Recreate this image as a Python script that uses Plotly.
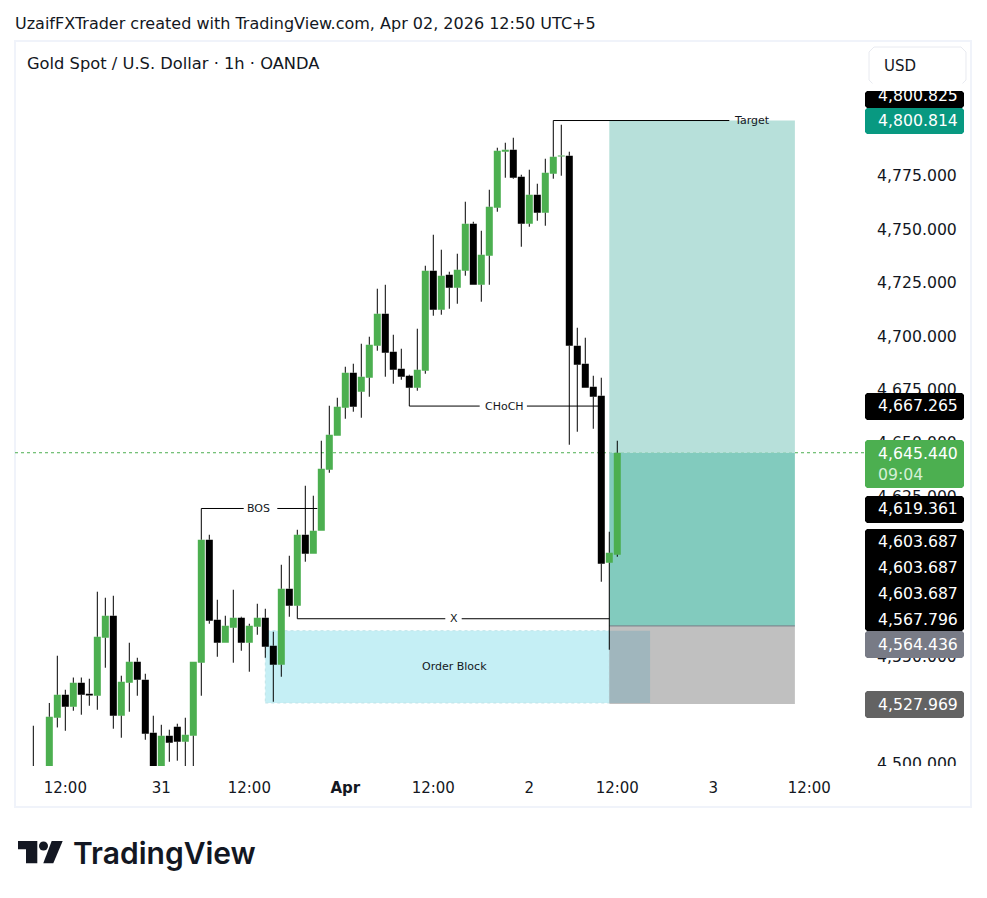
import plotly.graph_objects as go

# 1h gold candles (bar index = position in this list)
opens = [4490, 4492, 4492, 4490, 4521.49, 4532.25, 4526.63, 4537.86, 4532.72, 4531.78,
         4558.91, 4569.2, 4522.43, 4537.86, 4547.68, 4539.27, 4514.5, 4490, 4513.07, 4517.28,
         4510.3, 4513.07, 4547.22, 4604.75, 4567.33, 4556.57, 4563.59, 4568.26, 4556.57, 4564.05,
         4568.26, 4555.17, 4546.28, 4581.83, 4573.88, 4607.08, 4598.2, 4608.96, 4637.49, 4653.39,
         4666.49, 4682.86, 4673.97, 4680.52, 4695.49, 4710.45, 4692.68, 4684.73, 4681.45, 4675.84,
         4683.79, 4730.57, 4712.32, 4728.7, 4722.6, 4730.57, 4752.55, 4724, 4737.58, 4760.03,
         4786.23, 4787.16, 4774.53, 4752.55, 4766.11, 4757.69, 4775.94, 4784.03, 4784.35, 4695.49,
         4687.07, 4676.31, 4672.1, 4593.99, 4597.73]
closes = [4485, 4488, 4494, 4521.96, 4532.25, 4526.63, 4537.86, 4532.25, 4531.9, 4559.38,
          4569.2, 4522.43, 4538.33, 4547.68, 4539.27, 4514, 4490, 4513.07, 4509.8, 4510.3,
          4513.54, 4547.68, 4604.75, 4566.86, 4556.57, 4564.52, 4568.26, 4556.57, 4564.52, 4568.26,
          4554.7, 4546.28, 4581.83, 4573.88, 4607.08, 4598.2, 4608.96, 4637.96, 4653.86, 4666.95,
          4682.86, 4666.95, 4680.99, 4695.95, 4710.45, 4692.21, 4684.26, 4680.99, 4675.84, 4684.26,
          4730.57, 4712.32, 4728.23, 4722.6, 4731.03, 4752.55, 4724, 4738.05, 4760.5, 4786.69,
          4787.16, 4774.06, 4752.55, 4766.11, 4757.69, 4776.4, 4783.89, 4784.5, 4695.49, 4686.6,
          4675.84, 4671.63, 4593.52, 4598.67, 4645.44]
highs = [4498.8, 4517.75, 4497, 4528.4, 4550.49, 4534.59, 4540.3, 4540.3, 4539.73, 4580.44,
         4577.62, 4578.55, 4541.14, 4556.57, 4549.55, 4542.07, 4522.43, 4518.2, 4515.9, 4518.7,
         4521.49, 4547.68, 4604.75, 4607.08, 4576.68, 4569.2, 4581.36, 4568.73, 4565.46, 4574.81,
         4572.47, 4561.71, 4593.05, 4597.26, 4609.42, 4630, 4625.33, 4651.05, 4667.42, 4671.16,
         4685.66, 4687.07, 4696.42, 4699.7, 4722.15, 4724, 4700.63, 4694.08, 4681.92, 4703.44,
         4732.9, 4747.4, 4740.39, 4730.1, 4738.52, 4762.84, 4753.48, 4749.27, 4768.45, 4788.1,
         4790.43, 4792.77, 4775.47, 4777.81, 4771.26, 4782.95, 4783.89, 4798.85, 4786.23, 4703.9,
         4699.23, 4681.45, 4680.52, 4608.49, 4651.05]
lows = [4482, 4484, 4488, 4486, 4516.95, 4515.4, 4524.76, 4522.9, 4527.1, 4525.23,
        4544.88, 4516.35, 4512.14, 4524.3, 4531.78, 4511.2, 4486, 4486, 4500.9, 4501.4,
        4490, 4490, 4531.78, 4565.46, 4550.02, 4556.57, 4547.22, 4552.83, 4543.01, 4560.31,
        4549.55, 4528.97, 4540.67, 4568.73, 4573.88, 4594.46, 4598.2, 4608.96, 4636.08, 4653.39,
        4661.34, 4664.62, 4661.81, 4671.63, 4693.15, 4680.99, 4677.71, 4679.58, 4675.84, 4674.44,
        4682.39, 4709.52, 4709.99, 4712.79, 4715.13, 4728.23, 4724, 4716.07, 4724, 4758.16,
        4774.06, 4773.6, 4741.79, 4751.15, 4753.95, 4751.61, 4773.6, 4775, 4649.18, 4655.26,
        4675.84, 4656.66, 4585.1, 4553.3, 4596.79]

tick_bars = [5, 17, 28, 40, 51, 63, 74, 86, 98]
tick_names = ["12:00", "31", "12:00", "<b>Apr</b>", "12:00", "2", "12:00", "3", "12:00"]
# 4,525 / 4,575 / 4,600 sit fully behind the value labels, so they are left out
price_ticks = [4500, 4550, 4625, 4650, 4675, 4700, 4725, 4750, 4775]

last_price = 4645.44
target_price = 4800.814
entry_price = 4564.436
stop_price = 4527.969
bos_price = 4619.361
choch_price = 4667.265
x_price = 4567.796
target_line_price = 4800.825
block_top = 4562.2
block_bottom = 4528.4

# pane geometry in page pixels
W, H = 987, 898
LEFT, RIGHT, TOP, BOTTOM = 15, 864, 42, 766
FONT = "DejaVu Sans"
INK = "#131722"


def px(x):
    return (x - LEFT) / (RIGHT - LEFT)


def py(y):
    return (BOTTOM - y) / (BOTTOM - TOP)


def rounded(x0, y0, x1, y1, r):
    pts = [(x0 + r, y0), (x1 - r, y0), (x1, y0 + r), (x1, y1 - r), (x1 - r, y1), (x0 + r, y1), (x0, y1 - r), (x0, y0 + r)]
    return "M" + " L".join(f"{px(a):.5f},{py(b):.5f}" for a, b in pts) + " Z"


def poly(pts):
    return "M" + " L".join(f"{px(a):.5f},{py(b):.5f}" for a, b in pts) + " Z"


# wicks are always black, even on green bars, so they get their own trace
wick_x, wick_y = [], []
for i in range(len(opens)):
    wick_x += [i, i, None, i, i, None]
    wick_y += [highs[i], max(opens[i], closes[i]), None, min(opens[i], closes[i]), lows[i], None]

fig = go.Figure()
fig.add_trace(go.Candlestick(
    x=list(range(len(opens))), open=opens, high=highs, low=lows, close=closes,
    increasing=dict(fillcolor="#4caf50", line=dict(color="#4caf50", width=0)),
    decreasing=dict(fillcolor="#000000", line=dict(color="#000000", width=0)),
    showlegend=False,
))
fig.add_trace(go.Scatter(x=wick_x, y=wick_y, mode="lines", line=dict(color="#000000", width=1),
                         showlegend=False, hoverinfo="skip"))


def marker(xs, ys):
    fig.add_trace(go.Scatter(x=xs, y=ys, mode="lines", line=dict(color="#000000", width=1),
                             showlegend=False, hoverinfo="skip"))


marker([22, 22, 27.3, None, 31.5, 36.5], [highs[22], bos_price, bos_price, None, bos_price, bos_price])
marker([48, 48, 56.8, None, 62.7, 72], [lows[48], choch_price, choch_price, None, choch_price, choch_price])
marker([34, 34, 52.5, None, 54.55, 73], [lows[34], x_price, x_price, None, x_price, x_price])
marker([66, 66, 88], [highs[66], target_line_price, target_line_price])

shapes = [
    dict(type="rect", xref="paper", yref="paper", x0=px(15), x1=px(971), y0=py(41), y1=py(807),
         line=dict(color="#f0f3fa", width=2), fillcolor="#ffffff", layer="below"),
    dict(type="rect", x0=73, x1=96.2, y0=last_price, y1=target_price, fillcolor="#b7e0da", line_width=0, layer="below"),
    dict(type="rect", x0=73, x1=96.2, y0=entry_price, y1=last_price, fillcolor="#82cbbe", line_width=0, layer="below"),
    dict(type="rect", x0=73, x1=96.2, y0=stop_price, y1=entry_price, fillcolor="#c0c0c0", line_width=0, layer="below"),
    dict(type="rect", x0=30, x1=73, y0=block_bottom, y1=block_top, fillcolor="#c5eff5",
         line=dict(color="#c0e4e8", width=1, dash="dot"), layer="below"),
    dict(type="rect", x0=73, x1=78.1, y0=block_bottom, y1=block_top, fillcolor="#a0b6bd", line_width=0, layer="below"),
    dict(type="line", x0=73, x1=96.2, y0=entry_price, y1=entry_price, line=dict(color="#787b86", width=1), layer="below"),
    dict(type="line", xref="paper", x0=0, x1=1, y0=last_price, y1=last_price,
         line=dict(color="#4caf50", width=1, dash="dot"), layer="below"),
    # crop the lowest price tick at the edge of the pane
    dict(type="rect", xref="paper", yref="paper", x0=px(866), x1=px(970), y0=py(766), y1=py(806),
         fillcolor="#ffffff", line_width=0, layer="above"),
]

# price labels on the right axis
for y0, y1, color in [(91, 108, "#000000"), (108, 134, "#089981"), (393, 420, "#000000"), (440, 488, "#4caf50"),
                      (496, 523, "#000000"), (529, 631, "#000000"), (631, 658, "#787b86"), (691, 718, "#636363")]:
    shapes.append(dict(type="path", xref="paper", yref="paper", path=rounded(865, y0, 964, y1, 2),
                       fillcolor=color, line_width=0, layer="above"))

# USD button
shapes.append(dict(type="path", xref="paper", yref="paper", path=rounded(869, 47, 966, 85, 5),
                   fillcolor="#ffffff", line=dict(color="#e8eaf0", width=1), layer="above"))

# TradingView logo
shapes.append(dict(type="path", xref="paper", yref="paper", fillcolor="#131722", line_width=0, layer="above",
                   path=poly([(18, 841), (37.3, 841), (37.3, 863.3), (26, 863.3), (26, 849.3), (18, 849.3)])))
shapes.append(dict(type="path", xref="paper", yref="paper", fillcolor="#131722", line_width=0, layer="above",
                   path=poly([(51.7, 841), (62.7, 841), (53.3, 863.3), (43.3, 863.3)])))
shapes.append(dict(type="circle", xref="paper", yref="paper", fillcolor="#131722", line_width=0, layer="above",
                   x0=px(39), x1=px(48), y0=py(841.5), y1=py(850.5)))

annotations = []


def page_text(text, x, y, size, color=INK, anchor="left", family=FONT, weight="normal"):
    annotations.append(dict(text=text, xref="paper", yref="paper", x=px(x), y=py(y), xanchor=anchor, yanchor="middle",
                            showarrow=False, font=dict(size=size, color=color, family=family, weight=weight)))


def chart_text(text, bar, price, size=11):
    annotations.append(dict(text=text, x=bar, y=price, xanchor="center", yanchor="middle", showarrow=False,
                            font=dict(size=size, color=INK, family=FONT)))


page_text("UzaifFXTrader created with TradingView.com, Apr 02, 2026 12:50 UTC+5", 13, 23, 16)
page_text("Gold Spot / U.S. Dollar · 1h · OANDA", 25, 64, 16.3)
page_text("USD", 882, 66, 15)
chart_text("BOS", 29.2, bos_price)
chart_text("CHoCH", 59.9, choch_price)
chart_text("X", 53.6, x_price)
chart_text("Target", 90.9, target_line_price)
chart_text("Order Block", 53.7, (block_top + block_bottom) / 2)

value_labels = [
    (f"{target_line_price:,.3f}", 96, "#ffffff"),
    (f"{target_price:,.3f}", 120, "#ffffff"),
    (f"{choch_price:,.3f}", 406, "#ffffff"),
    (f"{last_price:,.3f}", 453, "#ffffff"),
    ("09:04", 474, "#d5efd6"),
    (f"{bos_price:,.3f}", 509, "#ffffff"),
    ("4,603.687", 541.5, "#ffffff"),
    ("4,603.687", 567.5, "#ffffff"),
    ("4,603.687", 593, "#ffffff"),
    (f"{x_price:,.3f}", 619, "#ffffff"),
    (f"{entry_price:,.3f}", 644.5, "#ffffff"),
    (f"{stop_price:,.3f}", 704, "#ffffff"),
]
for text, y, color in value_labels:
    page_text(text, 876, y, 15.7, color)

# crop the top of the label that sits under the USD button
annotations.append(dict(text=" ", xref="paper", yref="paper", x=px(865), y=py(91), xanchor="left", yanchor="bottom",
                        width=99, height=6, borderpad=0, bgcolor="#ffffff", showarrow=False))

page_text("TradingView", 71, 853, 30, "#131722", family="Inter", weight=600)

fig.update_layout(
    width=W, height=H,
    margin=dict(l=LEFT, r=W - RIGHT, t=TOP, b=H - BOTTOM, pad=0, autoexpand=False),
    paper_bgcolor="#ffffff", plot_bgcolor="rgba(0,0,0,0)",
    boxgap=0.125, boxgroupgap=0,
    showlegend=False,
    shapes=shapes, annotations=annotations,
    font=dict(family=FONT, color=INK),
    xaxis=dict(range=[-1.29, 104.84], rangeslider=dict(visible=False), showgrid=False, zeroline=False,
               showline=False, ticks="", tickvals=tick_bars, ticktext=tick_names, tickangle=0,
               tickfont=dict(size=15, color=INK), ticklabelstandoff=11),
    yaxis=dict(range=[4498.92, 4837.55], side="right", showgrid=False, zeroline=False, showline=False, ticks="",
               tickvals=price_ticks, tickformat=",.3f", tickfont=dict(size=15.7, color=INK), ticklabelstandoff=12),
)

fig.write_html("out.html", config={"displayModeBar": False},
               post_script="document.body.style.margin='0';document.documentElement.style.overflow='hidden';")
